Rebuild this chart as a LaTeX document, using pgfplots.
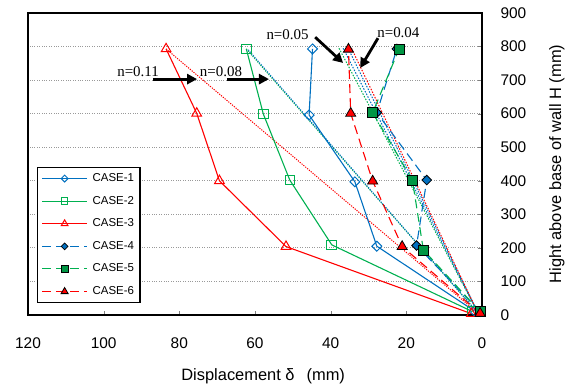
\documentclass[border=0pt]{standalone}
\usepackage{pgfplots}
\pgfplotsset{compat=1.18}
\usepackage{fontspec}
\setmainfont{Liberation Sans}
\newfontfamily\serfont{Liberation Serif}
\usetikzlibrary{arrows.meta}
\definecolor{cblue}{RGB}{0,112,192}
\definecolor{cgreen}{RGB}{0,176,80}
\definecolor{cred}{RGB}{255,0,0}
\begin{document}
\begin{tikzpicture}
\begin{axis}[
  width=454bp, height=302bp, scale only axis,
  x dir=reverse,
  xmin=0, xmax=120, ymin=0, ymax=900,
  xtick={0,20,...,120}, ytick={0,100,...,900},
  xtick pos=bottom, ytick pos=right,
  yticklabel pos=right,
  tick align=inside, major tick length=4bp,
  /pgf/number format/assume math mode=true,
  ticklabel style={font=\fontsize{15.5}{18}\selectfont},
  xticklabel style={yshift=-19bp},
  yticklabel style={xshift=15bp},
  axis line style={line width=1.1bp, black},
  ymajorgrids, grid style={gray!80, dotted, line width=0.9bp},
  xlabel={Displacement δ\hspace{12bp}(mm)},
  ylabel={Hight above base of wall H (mm)},
  label style={font=\fontsize{16.5}{19}\selectfont},
  xlabel style={at={(axis description cs:0.518,-0.202)}, anchor=center},
  ylabel style={at={(axis description cs:1.165,0.5)}, anchor=center, rotate=0},
  legend style={at={(axis description cs:0.02,0.49)}, anchor=north west,
    draw=black, line width=1.1bp, font=\fontsize{11.5}{13}\selectfont,
    inner xsep=4bp, inner ysep=3.5bp, row sep=7.6bp, column sep=3bp,
    nodes={inner sep=2bp, text height=8.5bp, text depth=2.5bp}},
  legend cell align=left,
  legend image code/.code={\draw[mark repeat=2,mark phase=2,#1,line width=1bp,every mark/.append style={scale=0.7}] plot coordinates {(0bp,0bp) (22.5bp,0bp) (45bp,0bp)};},
]
\coordinate (bl) at (axis cs:120,0);
% dotted rigid-rotation lines
\addplot[forget plot, cred, line width=1bp, dash pattern=on 1.2bp off 1.2bp] coordinates {(83.5,793) (1,5)};
\addplot[forget plot, cgreen, line width=1bp, dash pattern=on 1.2bp off 1.2bp] coordinates {(62.3,793) (1,5)};
\addplot[forget plot, cblue, line width=1bp, dash pattern=on 1.2bp off 1.2bp, dash phase=1.2bp] coordinates {(62.0,793) (1,5)};
\addplot[forget plot, cgreen, line width=1bp, dash pattern=on 1.5bp off 1.5bp] coordinates {(37.8,795) (1,5)};
\addplot[forget plot, cblue, line width=1bp, dash pattern=on 1.5bp off 1.5bp] coordinates {(36.7,795) (1,5)};
\addplot[forget plot, cblue, line width=1bp, dash pattern=on 1.5bp off 1.5bp] coordinates {(35.4,795) (1,5)};
\addplot[forget plot, cred, line width=1bp, dash pattern=on 1.5bp off 1.5bp] coordinates {(34.5,795) (1,5)};
% cases
\addplot[cblue, line width=1.1bp, mark=square, mark size=3.5bp,
  mark options={rotate=45, fill=white, solid, line width=1bp}]
  coordinates {(2,12) (27.8,205) (33.6,397) (45.7,596) (44.8,793)};
\addlegendentry{CASE-1}
\addplot[cgreen, line width=1.1bp, mark=square, mark size=4.8bp,
  mark options={fill=white, solid, line width=1bp}]
  coordinates {(2.5,10) (39.7,209) (50.8,402) (57.8,599) (62.3,793)};
\addlegendentry{CASE-2}
\addplot[cred, line width=1.1bp, mark=triangle, mark size=5.6bp,
  mark options={fill=white, solid, line width=1bp}]
  coordinates {(2.8,4) (51.8,204) (69.4,400) (75.4,601) (83.5,793)};
\addlegendentry{CASE-3}
\addplot[cblue, line width=1.1bp, dash pattern=on 9bp off 5bp, mark=square*, mark size=3.4bp,
  mark options={rotate=45, fill=cblue, draw=black, solid, line width=0.8bp}]
  coordinates {(0.5,10) (17.3,207) (14.6,402) (27.8,603) (22.5,793)};
\addlegendentry{CASE-4}
\addplot[cgreen, line width=1.1bp, dash pattern=on 9bp off 5bp, mark=square*, mark size=5bp,
  mark options={fill=cgreen!85!black, draw=black, solid, line width=0.8bp}]
  coordinates {(0.5,10) (15.5,194) (18.4,402) (28.9,603) (21.9,793)};
\addlegendentry{CASE-5}
\addplot[cred, line width=1.1bp, dash pattern=on 9bp off 5bp, mark=triangle*, mark size=5.8bp,
  mark options={fill=cred, draw=black, solid, line width=0.8bp}]
  coordinates {(0.5,5) (21.1,204) (28.9,399) (34.7,601) (35.3,792)};
\addlegendentry{CASE-6}
% annotations
\node[font=\serfont\fontsize{15}{17}\selectfont, inner sep=0pt] at (axis cs:90.9,726) {n=0.11};
\node[font=\serfont\fontsize{15}{17}\selectfont, inner sep=0pt] at (axis cs:69.0,726) {n=0.08};
\node[font=\serfont\fontsize{15}{17}\selectfont, inner sep=0pt] at (axis cs:51.4,836) {n=0.05};
\node[font=\serfont\fontsize{15}{17}\selectfont, inner sep=0pt] at (axis cs:22.1,842) {n=0.04};
\draw[line width=2.8bp, -{Triangle[length=10bp,width=10bp]}] (axis cs:87.0,703) -- (axis cs:75.3,703);
\draw[line width=2.8bp, -{Triangle[length=10bp,width=10bp]}] (axis cs:67.4,703) -- (axis cs:56.3,703);
\draw[line width=2.8bp, -{Triangle[length=10bp,width=10bp]}] (axis cs:44.1,828) -- (axis cs:36.7,751);
\draw[line width=2.8bp, -{Triangle[length=10bp,width=10bp]}] (axis cs:27.5,825) -- (axis cs:32.2,736);
\end{axis}
\pgfresetboundingbox
\path (bl) ++(-28bp,-70bp) rectangle ++(572bp,385bp);
\end{tikzpicture}
\end{document}
